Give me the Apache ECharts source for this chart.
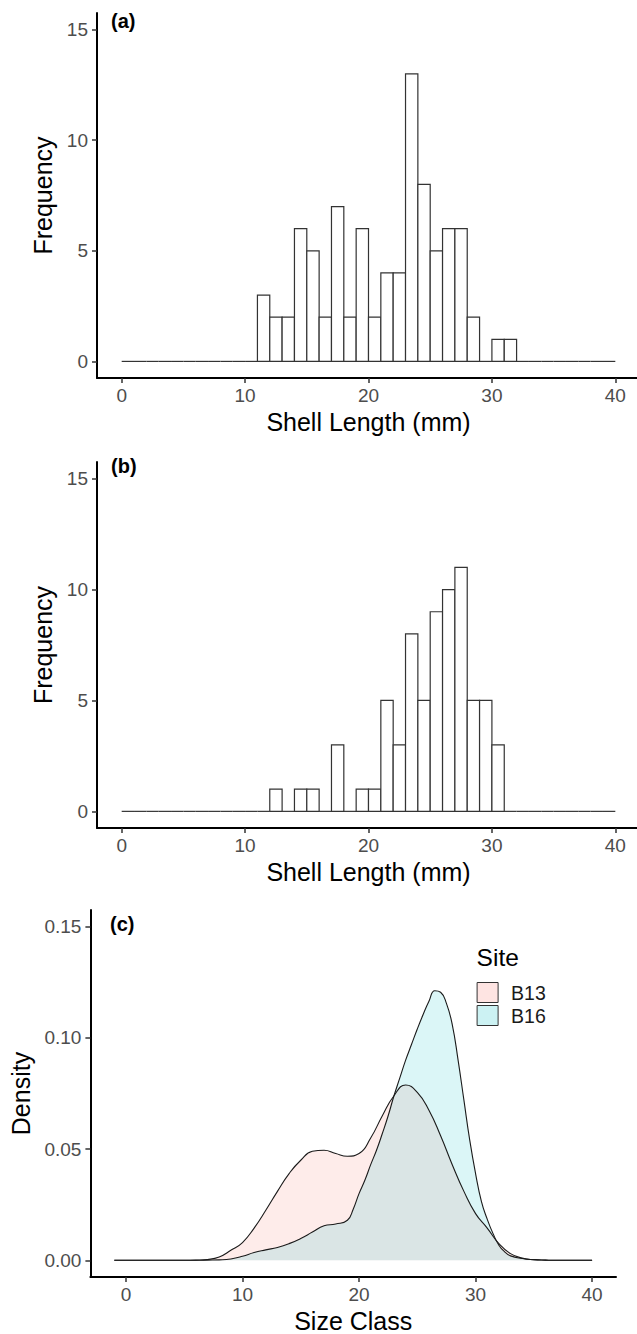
<!DOCTYPE html>
<html>
<head>
<meta charset="utf-8">
<script src="https://cdn.jsdelivr.net/npm/echarts@6.0.0/dist/echarts.min.js"></script>
<style>
html,body{margin:0;padding:0;background:#fff;overflow:hidden;}
#chart{width:637px;height:1334px;}
</style>
</head>
<body>
<div id="chart"></div>
<script>
// ---------- data ----------
const xTicks = [0, 10, 20, 30, 40];
const freqTicks = [0, 5, 10, 15];
const densTicks = [0, 0.05, 0.10, 0.15];

// histogram bins of width 1 mm, left edges 0..39
const binLeft = [0,1,2,3,4,5,6,7,8,9,10,11,12,13,14,15,16,17,18,19,20,21,22,23,24,25,26,27,28,29,30,31,32,33,34,35,36,37,38,39];
const countsA = [0,0,0,0,0,0,0,0,0,0,0,3,2,2,6,5,2,7,2,6,2,4,4,13,8,5,6,6,2,0,1,1,0,0,0,0,0,0,0,0];
const countsB = [0,0,0,0,0,0,0,0,0,0,0,0,1,0,1,1,0,3,0,1,1,5,3,8,5,9,10,11,5,5,3,0,0,0,0,0,0,0,0,0];

// density (panel c)
const sizeB13 = [-1,0,1,2,3,4,5,6,7,8,9,10,11,12,13,14,15,16,17,18,19,20,21,22,23,24,25,26,27,28,29,30,31,32,33,34,35,36,37,38,39,40];
const densB13 = [0,0,0,0,0,0,0,0.0001,0.0004,0.0015,0.0045,0.0080,0.0145,0.0225,0.031,0.039,0.045,0.049,0.0495,0.048,0.0468,0.048,0.055,0.065,0.074,0.0788,0.0755,0.0675,0.056,0.043,0.031,0.021,0.0145,0.0075,0.003,0.001,0.0003,0.0001,0,0,0,0];
const sizeB16 = [-1,0,1,2,3,4,5,6,7,8,9,10,11,12,13,14,15,16,17,18,19,19.5,20,20.5,21,21.5,22,22.5,23,23.5,24,24.5,25,25.5,26,26.5,27,27.5,28,28.5,29,29.5,30,30.5,31,31.5,32,32.5,33,34,35,36,37,38,39,40];
const densB16 = [0,0,0,0,0,0,0,0,0.0001,0.0002,0.0006,0.0018,0.0035,0.0047,0.0058,0.0075,0.0098,0.0127,0.0155,0.0163,0.0180,0.023,0.030,0.036,0.043,0.0495,0.057,0.065,0.074,0.082,0.090,0.097,0.104,0.1105,0.1165,0.1212,0.1205,0.1155,0.106,0.090,0.072,0.054,0.039,0.0265,0.0185,0.012,0.0068,0.0038,0.002,0.0008,0.0003,0.0001,0,0,0,0];
const siteNames = ['B13', 'B16'];

// ---------- helpers ----------
const FONT = '"Liberation Sans", Arial, Helvetica, sans-serif';
function histData(counts){ return binLeft.map((b,i)=>[b, counts[i]]); }
function renderBin(params, api){
  const x = api.value(0), c = api.value(1);
  const p0 = api.coord([x, 0]);
  const p1 = api.coord([x + 1, c]);
  if (c === 0) {
    return {type:'line', shape:{x1:p0[0], y1:p0[1], x2:p1[0], y2:p0[1]},
      style:{stroke:'#333', lineWidth:1.2}};
  }
  return {type:'rect', shape:{x:p0[0], y:p1[1], width:p1[0]-p0[0], height:p0[1]-p1[1]},
    style:{fill:'#ffffff', stroke:'#333', lineWidth:1.2}};
}
function xAxisCfg(grid, min, max, name){
  return {gridIndex:grid, type:'value', min:min, max:max,
    axisLine:{show:true, onZero:false, lineStyle:{color:'#000', width:2}},
    axisTick:{show:true, customValues:xTicks, length:5, lineStyle:{color:'#333', width:1.5}},
    axisLabel:{customValues:xTicks, fontSize:19, color:'#4d4d4d', margin:8, fontFamily:FONT},
    splitLine:{show:false},
    name:name, nameLocation:'middle', nameGap:31,
    nameTextStyle:{fontSize:25, color:'#000', fontFamily:FONT}};
}
function yAxisCfg(grid, min, max, ticks, name, gap, fmt){
  return {gridIndex:grid, type:'value', min:min, max:max,
    axisLine:{show:true, onZero:false, lineStyle:{color:'#000', width:2}},
    axisTick:{show:true, customValues:ticks, length:5, lineStyle:{color:'#333', width:1.5}},
    axisLabel:{customValues:ticks, fontSize:19, color:'#4d4d4d', margin:9, fontFamily:FONT,
      formatter: fmt || (v=>String(v))},
    splitLine:{show:false},
    name:name, nameLocation:'middle', nameGap:gap,
    nameTextStyle:{fontSize:25, color:'#000', fontFamily:FONT}};
}
function pairs(xs, ys){ return xs.map((x,i)=>[x, ys[i]]); }

const chart = echarts.init(document.getElementById('chart'), null, {renderer:'svg'});
chart.setOption({
  backgroundColor:'#ffffff',
  animation:false,
  textStyle:{fontFamily:FONT},
  grid:[
    {left:97, top:13, width:543, height:365, containLabel:false, outerBoundsMode:'none'},
    {left:97, top:462, width:543, height:366, containLabel:false, outerBoundsMode:'none'},
    {left:90.4, top:910, width:525.6, height:367, containLabel:false, outerBoundsMode:'none'}
  ],
  xAxis:[
    xAxisCfg(0, -2, 42, 'Shell Length (mm)'),
    xAxisCfg(1, -2, 42, 'Shell Length (mm)'),
    xAxisCfg(2, -3.05, 42.05, 'Size Class')
  ],
  yAxis:[
    yAxisCfg(0, -0.75, 15.75, freqTicks, 'Frequency', 41),
    yAxisCfg(1, -0.75, 15.75, freqTicks, 'Frequency', 41),
    yAxisCfg(2, -0.0075, 0.1575, densTicks, 'Density', 57, v=>v.toFixed(2))
  ],
  legend:{
    orient:'vertical', left:476.6, top:982, itemWidth:21, itemHeight:20, itemGap:2,
    icon:'rect', selectedMode:false, padding:0,
    textStyle:{fontSize:19.5, lineHeight:20, color:'#1a1a1a', fontFamily:FONT, padding:[0,0,0,8]},
    data:[
      {name:siteNames[0], itemStyle:{color:'rgba(248,118,109,0.2)', borderColor:'#333', borderWidth:1}},
      {name:siteNames[1], itemStyle:{color:'rgba(0,191,196,0.2)', borderColor:'#333', borderWidth:1}}
    ]
  },
  graphic:[
    {type:'text', left:111, top:11, style:{text:'(a)', font:'bold 20px '+FONT, fill:'#000'}},
    {type:'text', left:111, top:456, style:{text:'(b)', font:'bold 20px '+FONT, fill:'#000'}},
    {type:'text', left:110, top:914, style:{text:'(c)', font:'bold 20px '+FONT, fill:'#000'}},
    {type:'text', left:476.6, top:945, style:{text:'Site', font:'24.5px '+FONT, fill:'#000'}}
  ],
  series:[
    {type:'custom', xAxisIndex:0, yAxisIndex:0, renderItem:renderBin, data:histData(countsA), silent:true},
    {type:'custom', xAxisIndex:1, yAxisIndex:1, renderItem:renderBin, data:histData(countsB), silent:true},
    {type:'line', name:siteNames[0], xAxisIndex:2, yAxisIndex:2, data:pairs(sizeB13, densB13),
      smooth:0.5, showSymbol:false, symbol:'none',
      lineStyle:{color:'#1a1a1a', width:1.1},
      itemStyle:{color:'rgba(248,118,109,0.2)'},
      areaStyle:{color:'rgba(248,118,109,0.2)', origin:'auto'}},
    {type:'line', name:siteNames[1], xAxisIndex:2, yAxisIndex:2, data:pairs(sizeB16, densB16),
      smooth:0.5, showSymbol:false, symbol:'none',
      lineStyle:{color:'#1a1a1a', width:1.1},
      itemStyle:{color:'rgba(0,191,196,0.2)'},
      areaStyle:{color:'rgba(0,191,196,0.2)', origin:'auto'}}
  ]
});
</script>
</body>
</html>
